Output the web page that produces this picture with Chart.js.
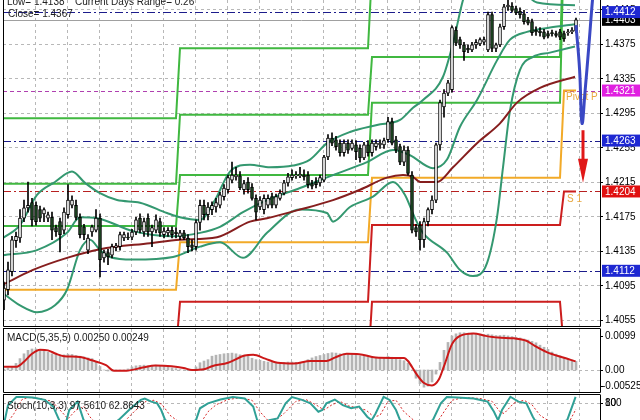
<!DOCTYPE html>
<html>
<head>
<meta charset="utf-8">
<script src="https://cdn.jsdelivr.net/npm/chart.js@4.4.0/dist/chart.umd.min.js"></script>
<style>
  html, body { margin: 0; padding: 0; background: #fff; width: 640px; height: 420px; overflow: hidden; }
  .pane { position: absolute; left: 0; }
</style>
</head>
<body>
<div class="pane" style="top:0"><canvas id="main" width="640" height="327"></canvas></div>
<div class="pane" style="top:327px"><canvas id="macd" width="640" height="67"></canvas></div>
<div class="pane" style="top:393px"><canvas id="stoch" width="640" height="47"></canvas></div>
<script>
// ---- price bars (30 min), index 0..143 ----
const opens = [1.4078,1.4090,1.4111,1.4147,1.4150,1.4173,1.4185,1.4191,1.4188,1.4183,
  1.4178,1.4173,1.4174,1.4162,1.4169,1.4159,1.4177,1.4188,1.4188,1.4174,
  1.4163,1.4136,1.4157,1.4159,1.4173,1.4127,1.4133,1.4130,1.4139,1.4140,
  1.4150,1.4151,1.4151,1.4157,1.4173,1.4157,1.4173,1.4157,1.4159,1.4169,
  1.4154,1.4156,1.4159,1.4157,1.4152,1.4156,1.4150,1.4142,1.4140,1.4168,
  1.4188,1.4177,1.4183,1.4186,1.4188,1.4198,1.4206,1.4217,1.4221,1.4222,
  1.4206,1.4215,1.4209,1.4196,1.4186,1.4183,1.4188,1.4198,1.4188,1.4196,
  1.4202,1.4214,1.4220,1.4222,1.4222,1.4223,1.4223,1.4213,1.4215,1.4214,
  1.4217,1.4244,1.4266,1.4264,1.4260,1.4249,1.4260,1.4254,1.4258,1.4254,
  1.4243,1.4258,1.4249,1.4256,1.4258,1.4258,1.4264,1.4285,1.4264,1.4256,
  1.4238,1.4252,1.4223,1.4162,1.4165,1.4148,1.4169,1.4183,1.4194,1.4258,
  1.4302,1.4318,1.4322,1.4391,1.4380,1.4374,1.4370,1.4368,1.4374,1.4375,
  1.4377,1.4368,1.4409,1.4370,1.4374,1.4395,1.4418,1.4419,1.4416,1.4413,
  1.4410,1.4403,1.4401,1.4391,1.4390,1.4389,1.4387,1.4388,1.4387,1.4389,
  1.4387,1.4388,1.4389,1.4390];
const highs = [1.4099,1.4122,1.4152,1.4157,1.4183,1.4194,1.4215,1.4196,1.4192,1.4187,
  1.4185,1.4180,1.4180,1.4165,1.4173,1.4185,1.4212,1.4199,1.4194,1.4178,
  1.4166,1.4154,1.4165,1.4183,1.4178,1.4136,1.4137,1.4143,1.4144,1.4157,
  1.4157,1.4156,1.4160,1.4174,1.4178,1.4173,1.4178,1.4165,1.4177,1.4173,
  1.4162,1.4162,1.4163,1.4162,1.4159,1.4159,1.4154,1.4148,1.4171,1.4194,
  1.4194,1.4191,1.4192,1.4196,1.4203,1.4212,1.4223,1.4238,1.4232,1.4227,
  1.4217,1.4220,1.4213,1.4200,1.4198,1.4200,1.4200,1.4202,1.4201,1.4206,
  1.4217,1.4225,1.4229,1.4227,1.4232,1.4229,1.4227,1.4217,1.4220,1.4223,
  1.4246,1.4270,1.4272,1.4268,1.4264,1.4264,1.4264,1.4264,1.4263,1.4258,
  1.4261,1.4263,1.4264,1.4264,1.4264,1.4266,1.4290,1.4289,1.4268,1.4259,
  1.4257,1.4256,1.4227,1.4166,1.4169,1.4173,1.4185,1.4199,1.4260,1.4310,
  1.4322,1.4333,1.4396,1.4395,1.4383,1.4377,1.4374,1.4377,1.4380,1.4382,
  1.4383,1.4412,1.4412,1.4376,1.4398,1.4421,1.4426,1.4423,1.4419,1.4417,
  1.4414,1.4406,1.4404,1.4395,1.4394,1.4392,1.4390,1.4391,1.4390,1.4392,
  1.4390,1.4392,1.4394,1.4405];
const lows = [1.4067,1.4084,1.4106,1.4139,1.4145,1.4169,1.4180,1.4164,1.4165,1.4169,
  1.4169,1.4169,1.4148,1.4152,1.4134,1.4155,1.4173,1.4185,1.4171,1.4150,
  1.4148,1.4132,1.4152,1.4157,1.4105,1.4122,1.4119,1.4127,1.4135,1.4136,
  1.4147,1.4148,1.4148,1.4154,1.4156,1.4152,1.4152,1.4140,1.4156,1.4152,
  1.4150,1.4152,1.4150,1.4150,1.4148,1.4148,1.4133,1.4135,1.4136,1.4159,
  1.4171,1.4171,1.4177,1.4180,1.4185,1.4194,1.4202,1.4214,1.4217,1.4206,
  1.4201,1.4202,1.4194,1.4171,1.4183,1.4178,1.4185,1.4185,1.4185,1.4194,
  1.4200,1.4210,1.4217,1.4219,1.4220,1.4217,1.4208,1.4207,1.4208,1.4210,
  1.4215,1.4241,1.4257,1.4252,1.4245,1.4245,1.4248,1.4252,1.4241,1.4238,
  1.4241,1.4245,1.4245,1.4252,1.4254,1.4254,1.4261,1.4258,1.4249,1.4235,
  1.4234,1.4223,1.4156,1.4152,1.4136,1.4139,1.4164,1.4178,1.4191,1.4252,
  1.4290,1.4315,1.4319,1.4373,1.4370,1.4356,1.4365,1.4366,1.4370,1.4373,
  1.4374,1.4366,1.4366,1.4366,1.4372,1.4392,1.4414,1.4412,1.4409,1.4405,
  1.4398,1.4397,1.4385,1.4385,1.4384,1.4381,1.4382,1.4384,1.4383,1.4380,
  1.4378,1.4385,1.4387,1.4388];
const closes = [1.4092,1.4113,1.4148,1.4152,1.4173,1.4185,1.4188,1.4171,1.4169,1.4173,
  1.4183,1.4177,1.4159,1.4157,1.4154,1.4180,1.4194,1.4194,1.4174,1.4154,
  1.4154,1.4150,1.4163,1.4173,1.4125,1.4133,1.4128,1.4140,1.4141,1.4154,
  1.4154,1.4150,1.4157,1.4171,1.4159,1.4169,1.4157,1.4162,1.4171,1.4156,
  1.4158,1.4159,1.4154,1.4155,1.4156,1.4150,1.4140,1.4139,1.4168,1.4188,
  1.4177,1.4186,1.4188,1.4191,1.4200,1.4208,1.4220,1.4223,1.4223,1.4208,
  1.4213,1.4206,1.4196,1.4180,1.4194,1.4196,1.4196,1.4188,1.4198,1.4202,
  1.4214,1.4221,1.4223,1.4223,1.4224,1.4221,1.4212,1.4210,1.4212,1.4220,
  1.4244,1.4266,1.4260,1.4256,1.4249,1.4260,1.4252,1.4260,1.4250,1.4243,
  1.4258,1.4249,1.4260,1.4260,1.4260,1.4263,1.4285,1.4260,1.4252,1.4238,
  1.4252,1.4225,1.4159,1.4157,1.4148,1.4169,1.4183,1.4194,1.4258,1.4307,
  1.4318,1.4330,1.4394,1.4376,1.4374,1.4366,1.4368,1.4374,1.4377,1.4380,
  1.4380,1.4409,1.4370,1.4374,1.4395,1.4418,1.4420,1.4414,1.4411,1.4409,
  1.4401,1.4399,1.4388,1.4389,1.4388,1.4383,1.4384,1.4387,1.4385,1.4383,
  1.4381,1.4389,1.4391,1.4403];

// ---- indicators on the price pane: [bar index, price] ----
const bbUpper = [[-0.25,1.4150],[4,1.4165],[8.25,1.4200],[12.75,1.4215],[17,1.4227],[20.25,1.4214],
  [24,1.4202],[28.25,1.4194],[34,1.4191],[40.75,1.4179],[44,1.4174],[49,1.4171],[52.75,1.4194],
  [56.5,1.4227],[61.5,1.4235],[66.5,1.4232],[72.25,1.4234],[76.5,1.4241],[80.75,1.4260],[86.5,1.4273],
  [93.25,1.4281],[99,1.4287],[102.25,1.4301],[104.75,1.4310],[109.75,1.4337],[112.25,1.4376],
  [114.75,1.4426],[116.5,1.4449],[121.5,1.4478],[127.75,1.4449],[133.25,1.4423],[142.75,1.4420]];
const bbMiddle = [[-0.25,1.4130],[8.25,1.4136],[15.75,1.4156],[19,1.4174],[23.25,1.4173],[32.25,1.4158],
  [42.25,1.4152],[49,1.4156],[54,1.4163],[59.75,1.4180],[65.75,1.4194],[74,1.4208],[82.25,1.4223],
  [90.75,1.4238],[97.25,1.4252],[101.5,1.4246],[107.25,1.4231],[110.75,1.4241],[114,1.4279],
  [118.25,1.4310],[123.25,1.4356],[126.5,1.4380],[130.75,1.4389],[136.5,1.4394],[142.75,1.4398]];
const bbLower = [[-0.25,1.4086],[4,1.4072],[8.25,1.4064],[12.75,1.4072],[15.75,1.4090],[19,1.4136],
  [21.5,1.4148],[24,1.4136],[26.5,1.4128],[32.25,1.4125],[42.25,1.4128],[49,1.4140],[54,1.4145],
  [59.75,1.4127],[65.75,1.4156],[74,1.4183],[80.75,1.4179],[82.25,1.4169],[86.5,1.4186],[92.25,1.4198],
  [97.25,1.4215],[100.25,1.4200],[102.75,1.4173],[104.75,1.4156],[110.75,1.4133],[114,1.4113],
  [117.25,1.4106],[120.75,1.4121],[123.25,1.4174],[124.75,1.4232],[126.5,1.4298],[129,1.4345],
  [132.25,1.4360],[136.5,1.4365],[142.75,1.4372]];
const movingAvg = [[-0.25,1.4096],[7.25,1.4113],[15.75,1.4127],[24,1.4137],[36.5,1.4144],[44,1.4148],
  [53.25,1.4151],[61.5,1.4169],[65.75,1.4173],[74,1.4183],[82.25,1.4194],[89,1.4206],[95.75,1.4220],
  [99.75,1.4223],[102.25,1.4221],[104,1.4215],[108.25,1.4215],[112.25,1.4232],[118.25,1.4260],
  [124,1.4283],[128.25,1.4307],[134,1.4324],[142.75,1.4337]];

// daily pivot levels (one value per day)
const dayStarts = [-0.25, 44, 92, 140];
const dayEnds = [43, 91, 139, 143];
const pivotR3 = [1.4289, 1.4370, 1.4460, 1.4560];
const pivotR2 = [1.4213, 1.4293, 1.4360, 1.4520];
const pivotR1 = [1.4164, 1.4223, 1.4307, 1.4500];
const pivotP  = [1.4090, 1.4145, 1.4220, 1.4321];
const pivotS1 = [1.4020, 1.4076, 1.4165, 1.4204];
const pivotS2 = [1.3990, 1.4000, 1.4076, 1.4020];

// horizontal levels and objects
const navyLevels = [1.4412, 1.4263, 1.4112];
const magentaLevel = 1.4321;
const redLevel = 1.4204;
const bidPrice = 1.4403;
const forecastPath = [[143,1.4397],[143.9,1.4345],[144.5,1.4283],[145.3,1.4322],[146.2,1.4372],[147.2,1.4430],[147.6,1.4445]];
const arrowTop = 1.4275, arrowTip = 1.4214, arrowBar = 144.75;

const priceTicks = [1.4055,1.4095,1.4135,1.4175,1.4215,1.4255,1.4295,1.4335,1.4375,1.4415];

// ---- MACD(5,35,5) ----
const macdMain = [0.0003,0.0006,0.0010,0.0019,0.0033,0.0047,0.0057,0.0061,0.0061,0.0058,
  0.0055,0.0052,0.0047,0.0045,0.0043,0.0044,0.0046,0.0045,0.0042,0.0040,
  0.0038,0.0035,0.0033,0.0023,0.0010,0.0000,-0.0003,-0.0003,-0.0002,-0.0001,
  0.0000,0.0003,0.0009,0.0012,0.0013,0.0014,0.0012,0.0013,0.0014,0.0012,
  0.0011,0.0008,0.0006,0.0004,0.0001,0.0000,-0.0002,-0.0001,0.0009,0.0021,
  0.0026,0.0030,0.0040,0.0043,0.0045,0.0047,0.0048,0.0049,0.0047,0.0044,
  0.0043,0.0040,0.0034,0.0030,0.0028,0.0025,0.0023,0.0022,0.0021,0.0021,
  0.0022,0.0023,0.0023,0.0022,0.0022,0.0024,0.0030,0.0035,0.0039,0.0042,
  0.0045,0.0048,0.0050,0.0049,0.0047,0.0047,0.0046,0.0045,0.0043,0.0041,
  0.0040,0.0039,0.0038,0.0037,0.0036,0.0036,0.0039,0.0037,0.0034,0.0030,
  0.0027,0.0020,0.0000,-0.0024,-0.0040,-0.0050,-0.0047,-0.0035,-0.0012,0.0022,
  0.0057,0.0080,0.0099,0.0105,0.0108,0.0108,0.0107,0.0107,0.0106,0.0104,
  0.0103,0.0104,0.0102,0.0100,0.0100,0.0101,0.0099,0.0097,0.0095,0.0093,
  0.0090,0.0087,0.0083,0.0079,0.0072,0.0066,0.0060,0.0052,0.0046,0.0041,
  0.0036,0.0032,0.0029,0.0025];
const macdSignal = [[0,0.0009],[3,0.0009],[5,0.0024],[7,0.0047],[9,0.0059],[11,0.0057],[13,0.0047],
  [15,0.0040],[19,0.0038],[22,0.0028],[25.5,0.0014],[27.5,-0.0002],[30.6,-0.0002],[34.7,0.0007],
  [37.8,0.0013],[41.9,0.0011],[44.9,0.0006],[47,0.0000],[50,0.0002],[52,0.0011],[56,0.0021],
  [60.2,0.0042],[62.3,0.0044],[65.3,0.0033],[68.4,0.0021],[72.5,0.0019],[76.6,0.0026],[80.6,0.0026],
  [82.7,0.0036],[85.7,0.0047],[88.8,0.0046],[92.9,0.0036],[97,0.0035],[100,0.0035],[101,0.0026],
  [103,-0.0010],[105,-0.0038],[107,-0.0045],[108.7,-0.0028],[110,0.0011],[112,0.0075],[114,0.0099],
  [117.4,0.0106],[120.4,0.0099],[123.5,0.0094],[127.5,0.0092],[130.6,0.0085],[132.7,0.0070],
  [135.7,0.0052],[139.8,0.0036],[142.9,0.0025]];

// ---- Stochastic(10,3,3) ----
const stochK = [[0,20],[1,74],[3.1,97],[4.6,97],[7.2,96],[10.2,89],[12.3,70],[13.8,31],[15.3,15],
  [16.3,60],[18.4,84],[19.9,31],[22.5,10],[25.5,8],[28.6,31],[31.7,65],[34.2,89],[35.2,93],[36.8,84],
  [38.3,79],[39.3,60],[40.3,31],[43.9,10],[48,31],[49,65],[51,79],[54.1,90],[57.2,97],[60.2,93],
  [62.3,70],[63.3,31],[64.8,20],[66.3,31],[68.4,36],[70.4,79],[72,97],[74.5,89],[76.6,79],[78.6,55],
  [79.6,60],[80.6,79],[82.7,90],[84.7,74],[86.8,65],[88.8,70],[90.8,41],[91.9,31],[92.9,50],[94.9,98],
  [96.4,89],[98,60],[99,31],[103,5],[107.2,31],[109.2,79],[110.7,97],[113.3,96],[117.4,93],[120.9,84],
  [122.5,55],[123.5,31],[124.5,60],[126.6,98],[128.6,84],[130.6,79],[132.2,41],[132.7,31],[136.8,12],
  [140.8,31],[142.9,97.561]];
const stochD = [[0,10],[2.5,50],[4.5,90],[6,96],[9,93],[12,85],[14,60],[16,35],[18,60],[20,70],
  [21.5,40],[24,12],[29.5,20],[32.5,55],[35.5,85],[37.5,88],[39.5,76],[41.5,45],[45,15],[49,20],
  [51,55],[53,75],[56,90],[59,95],[62,88],[64,55],[66,30],[68,32],[70,50],[73,85],[75.5,90],[78,75],
  [80,60],[82,75],[84,85],[86,72],[88,67],[90.5,60],[92.5,40],[94,45],[96,85],[98,88],[100,55],
  [104,15],[108,20],[110,55],[112,88],[115,96],[119,93],[122,85],[124,55],[125,50],[127.5,80],
  [130,88],[132,75],[134,45],[138,15],[141.5,30],[143,62.8643]];

// ---------------------------------------------------------------
const FONT = '10px "Liberation Sans", Arial, sans-serif';
const GRID = '#b8b8b8';
const xMin = -0.25, xMax = 149;
const gridBars = [];
for (let b = 7.75; b < 146; b += 8) gridBars.push(b);

const toXY = pts => pts.map(([x, y]) => ({ x, y }));
function stepLine(levels) {
  const pts = [];
  levels.forEach((v, d) => pts.push({ x: dayStarts[d], y: v }, { x: dayEnds[d], y: v }));
  return pts;
}
function lineSet(data, color, width, order, extra) {
  return Object.assign({ type: 'line', data, borderColor: color, borderWidth: width,
    pointRadius: 0, fill: false, order }, extra || {});
}

function vGrid(chart) {
  const { ctx, chartArea: a, scales: { x } } = chart;
  ctx.save();
  ctx.strokeStyle = GRID; ctx.lineWidth = 1; ctx.setLineDash([3, 3]);
  gridBars.forEach(b => {
    const px = Math.round(x.getPixelForValue(b)) + 0.5;
    ctx.beginPath(); ctx.moveTo(px, a.top); ctx.lineTo(px, a.bottom); ctx.stroke();
  });
  ctx.restore();
}
function hLine(chart, value, color, dash) {
  const { ctx, chartArea: a, scales: { y } } = chart;
  const py = Math.round(y.getPixelForValue(value)) + 0.5;
  ctx.save();
  ctx.strokeStyle = color; ctx.lineWidth = 1; ctx.setLineDash(dash);
  ctx.beginPath(); ctx.moveTo(a.left, py); ctx.lineTo(a.right, py); ctx.stroke();
  ctx.restore();
}
function axisText(chart, py, text, bg, dx) {
  const { ctx, chartArea: a } = chart;
  ctx.save();
  ctx.font = FONT; ctx.textBaseline = 'middle';
  if (bg) {
    ctx.fillStyle = bg; ctx.fillRect(a.right + 2, py - 6, 40, 12);
    ctx.fillStyle = '#fff';
  } else {
    ctx.strokeStyle = '#000'; ctx.lineWidth = 1;
    ctx.beginPath(); ctx.moveTo(a.right, Math.round(py) + 0.5); ctx.lineTo(a.right + 3, Math.round(py) + 0.5); ctx.stroke();
    ctx.fillStyle = '#000';
  }
  ctx.fillText(text, a.right + (dx === undefined ? 5 : dx), py + 0.5);
  ctx.restore();
}
function frame(chart, top) {
  const { ctx, chartArea: a } = chart;
  ctx.save();
  ctx.strokeStyle = '#000'; ctx.lineWidth = 1;
  ctx.beginPath();
  ctx.moveTo(a.left + 0.5, a.top); ctx.lineTo(a.left + 0.5, a.bottom + 0.5);
  ctx.lineTo(a.right + 0.5, a.bottom + 0.5); ctx.lineTo(a.right + 0.5, a.top);
  if (top) { ctx.moveTo(a.left, a.top - 0.5); ctx.lineTo(a.right + 0.5, a.top - 0.5); }
  ctx.stroke();
  ctx.restore();
}
function paneText(ctx, text, x, y, color) {
  ctx.save();
  ctx.font = FONT; ctx.textBaseline = 'middle'; ctx.fillStyle = color;
  ctx.fillText(text, x, y);
  ctx.restore();
}

const mainDecor = {
  id: 'mainDecor',
  beforeDatasetsDraw(chart) {
    const { ctx, scales: { x, y } } = chart;
    vGrid(chart);
    priceTicks.forEach(t => hLine(chart, t, GRID, [3, 3]));
    hLine(chart, bidPrice, '#a0a0a0', []);
    navyLevels.forEach(v => hLine(chart, v, '#1c1c8c', [8, 3, 2, 3]));
    hLine(chart, magentaLevel, '#b040b0', [4, 3]);
    hLine(chart, redLevel, '#b82020', [8, 3, 2, 3]);
    paneText(ctx, 'Pivot P', x.getPixelForValue(140.5), y.getPixelForValue(pivotP[3]) + 7, '#e8a840');
    paneText(ctx, 'S 1', x.getPixelForValue(140.75), y.getPixelForValue(pivotS1[3]) + 8, '#e8a840');
  },
  afterDatasetsDraw(chart) {
    const { ctx, scales: { x, y } } = chart;
    // red arrow
    const ax = x.getPixelForValue(arrowBar);
    const yTop = y.getPixelForValue(arrowTop), yTip = y.getPixelForValue(arrowTip);
    ctx.save();
    ctx.strokeStyle = '#e01818'; ctx.fillStyle = '#e01818'; ctx.lineWidth = 3;
    ctx.beginPath(); ctx.moveTo(ax, yTop); ctx.lineTo(ax, yTip - 20); ctx.stroke();
    ctx.beginPath(); ctx.moveTo(ax - 5, yTip - 24); ctx.lineTo(ax + 5, yTip - 24); ctx.lineTo(ax, yTip); ctx.closePath(); ctx.fill();
    ctx.restore();
    paneText(ctx, 'Low= 1.4138', 7, 2, '#202020');
    paneText(ctx, 'Current Days Range= 0.26', 75, 2, '#202020');
    paneText(ctx, 'Close= 1.4367', 8, 14, '#202020');
    frame(chart, false);
  },
  afterDraw(chart) {
    const y = chart.scales.y;
    priceTicks.forEach(t => axisText(chart, y.getPixelForValue(t), t.toFixed(4)));
    axisText(chart, y.getPixelForValue(bidPrice), bidPrice.toFixed(4), '#000');
    axisText(chart, y.getPixelForValue(navyLevels[0]), navyLevels[0].toFixed(4), '#1e28d2');
    axisText(chart, y.getPixelForValue(magentaLevel), magentaLevel.toFixed(4), '#e020e0');
    axisText(chart, y.getPixelForValue(navyLevels[1]), navyLevels[1].toFixed(4), '#1e28d2');
    axisText(chart, y.getPixelForValue(redLevel), redLevel.toFixed(4), '#e01010');
    axisText(chart, y.getPixelForValue(navyLevels[2]), navyLevels[2].toFixed(4), '#1e28d2');
  }
};

const idx = closes.map((_, i) => i);
const GREEN = 'rgb(64,184,64)', ORANGE = 'rgb(242,170,40)', RED = 'rgb(204,30,30)';
const TEAL = 'rgb(52,152,112)', BROWN = 'rgb(134,30,30)';
const smooth = { tension: 0.4, cubicInterpolationMode: 'monotone' };

new Chart(document.getElementById('main'), {
  type: 'bar',
  data: {
    datasets: [
      lineSet(stepLine(pivotR3), GREEN, 2, 20),
      lineSet(stepLine(pivotR2), GREEN, 2, 20),
      lineSet(stepLine(pivotR1), GREEN, 2, 20),
      lineSet(stepLine(pivotP), ORANGE, 2, 20),
      lineSet(stepLine(pivotS1), RED, 2, 20),
      lineSet(stepLine(pivotS2), RED, 2, 20),
      lineSet(toXY(bbUpper), TEAL, 2, 10, smooth),
      lineSet(toXY(bbMiddle), TEAL, 2, 10, smooth),
      lineSet(toXY(bbLower), TEAL, 2, 10, smooth),
      lineSet(toXY(movingAvg), BROWN, 2, 9, smooth),
      { type: 'bar', data: idx.map(i => ({ x: i, y: [lows[i], highs[i]] })),
        backgroundColor: '#000', barThickness: 1, grouped: false, order: 4 },
      { type: 'bar', data: idx.map(i => ({ x: i, y: [opens[i], closes[i]] })),
        backgroundColor: ctx => (closes[ctx.dataIndex] >= opens[ctx.dataIndex] ? '#fff' : '#1f4a24'),
        borderColor: '#000', borderWidth: 1, borderSkipped: false, barThickness: 3,
        minBarLength: 1, grouped: false, order: 3 },
      lineSet(toXY(forecastPath), 'rgb(58,72,196)', 3, 1, { tension: 0.4 })
    ]
  },
  options: {
    responsive: false, animation: false,
    layout: { padding: { left: 3, right: 40, top: 0, bottom: 1 } },
    plugins: { legend: { display: false }, tooltip: { enabled: false } },
    scales: {
      x: { type: 'linear', min: xMin, max: xMax, display: false, offset: false },
      y: { min: 1.4048, max: 1.4426, display: false }
    }
  },
  plugins: [mainDecor]
});

new Chart(document.getElementById('macd'), {
  type: 'bar',
  data: {
    datasets: [
      lineSet(toXY(macdSignal), 'rgb(204,24,24)', 2, 1, smooth),
      { type: 'bar', data: idx.map(i => ({ x: i, y: macdMain[i] })), backgroundColor: '#b4b4b4',
        barThickness: 2, grouped: false, order: 2 }
    ]
  },
  options: {
    responsive: false, animation: false,
    layout: { padding: { left: 3, right: 40, top: 2, bottom: 2 } },
    plugins: { legend: { display: false }, tooltip: { enabled: false } },
    scales: {
      x: { type: 'linear', min: xMin, max: xMax, display: false, offset: false },
      y: { min: -0.0064, max: 0.0119, display: false }
    }
  },
  plugins: [{
    id: 'macdDecor',
    beforeDatasetsDraw(chart) { vGrid(chart); hLine(chart, 0, GRID, [3, 3]); },
    afterDatasetsDraw(chart) {
      paneText(chart.ctx, 'MACD(5,35,5) 0.00250 0.00249', 7, 11, '#202020');
      frame(chart, true);
    },
    afterDraw(chart) {
      const y = chart.scales.y;
      axisText(chart, y.getPixelForValue(0.0099), '0.0099');
      axisText(chart, y.getPixelForValue(0), '0.00');
      axisText(chart, chart.chartArea.bottom - 6, '-0.00525', null, 2);
    }
  }]
});

new Chart(document.getElementById('stoch'), {
  type: 'line',
  data: {
    datasets: [
      lineSet(toXY(stochD), 'rgb(214,40,40)', 1, 2, { borderDash: [2, 2] }),
      lineSet(toXY(stochK), 'rgb(48,160,150)', 2, 1)
    ]
  },
  options: {
    responsive: false, animation: false,
    layout: { padding: { left: 3, right: 40, top: 2, bottom: 9 } },
    plugins: { legend: { display: false }, tooltip: { enabled: false } },
    scales: {
      x: { type: 'linear', min: xMin, max: xMax, display: false },
      y: { min: 0, max: 103, display: false }
    }
  },
  plugins: [{
    id: 'stochDecor',
    beforeDatasetsDraw(chart) { vGrid(chart); hLine(chart, 80, GRID, [3, 3]); },
    afterDatasetsDraw(chart) {
      paneText(chart.ctx, 'Stoch(10,3,3) 97.5610 62.8643', 7, 13, '#202020');
      frame(chart, true);
    },
    afterDraw(chart) {
      const y = chart.scales.y;
      axisText(chart, y.getPixelForValue(80), '80');
      axisText(chart, y.getPixelForValue(80), '100');
    }
  }]
});
</script>
</body>
</html>
